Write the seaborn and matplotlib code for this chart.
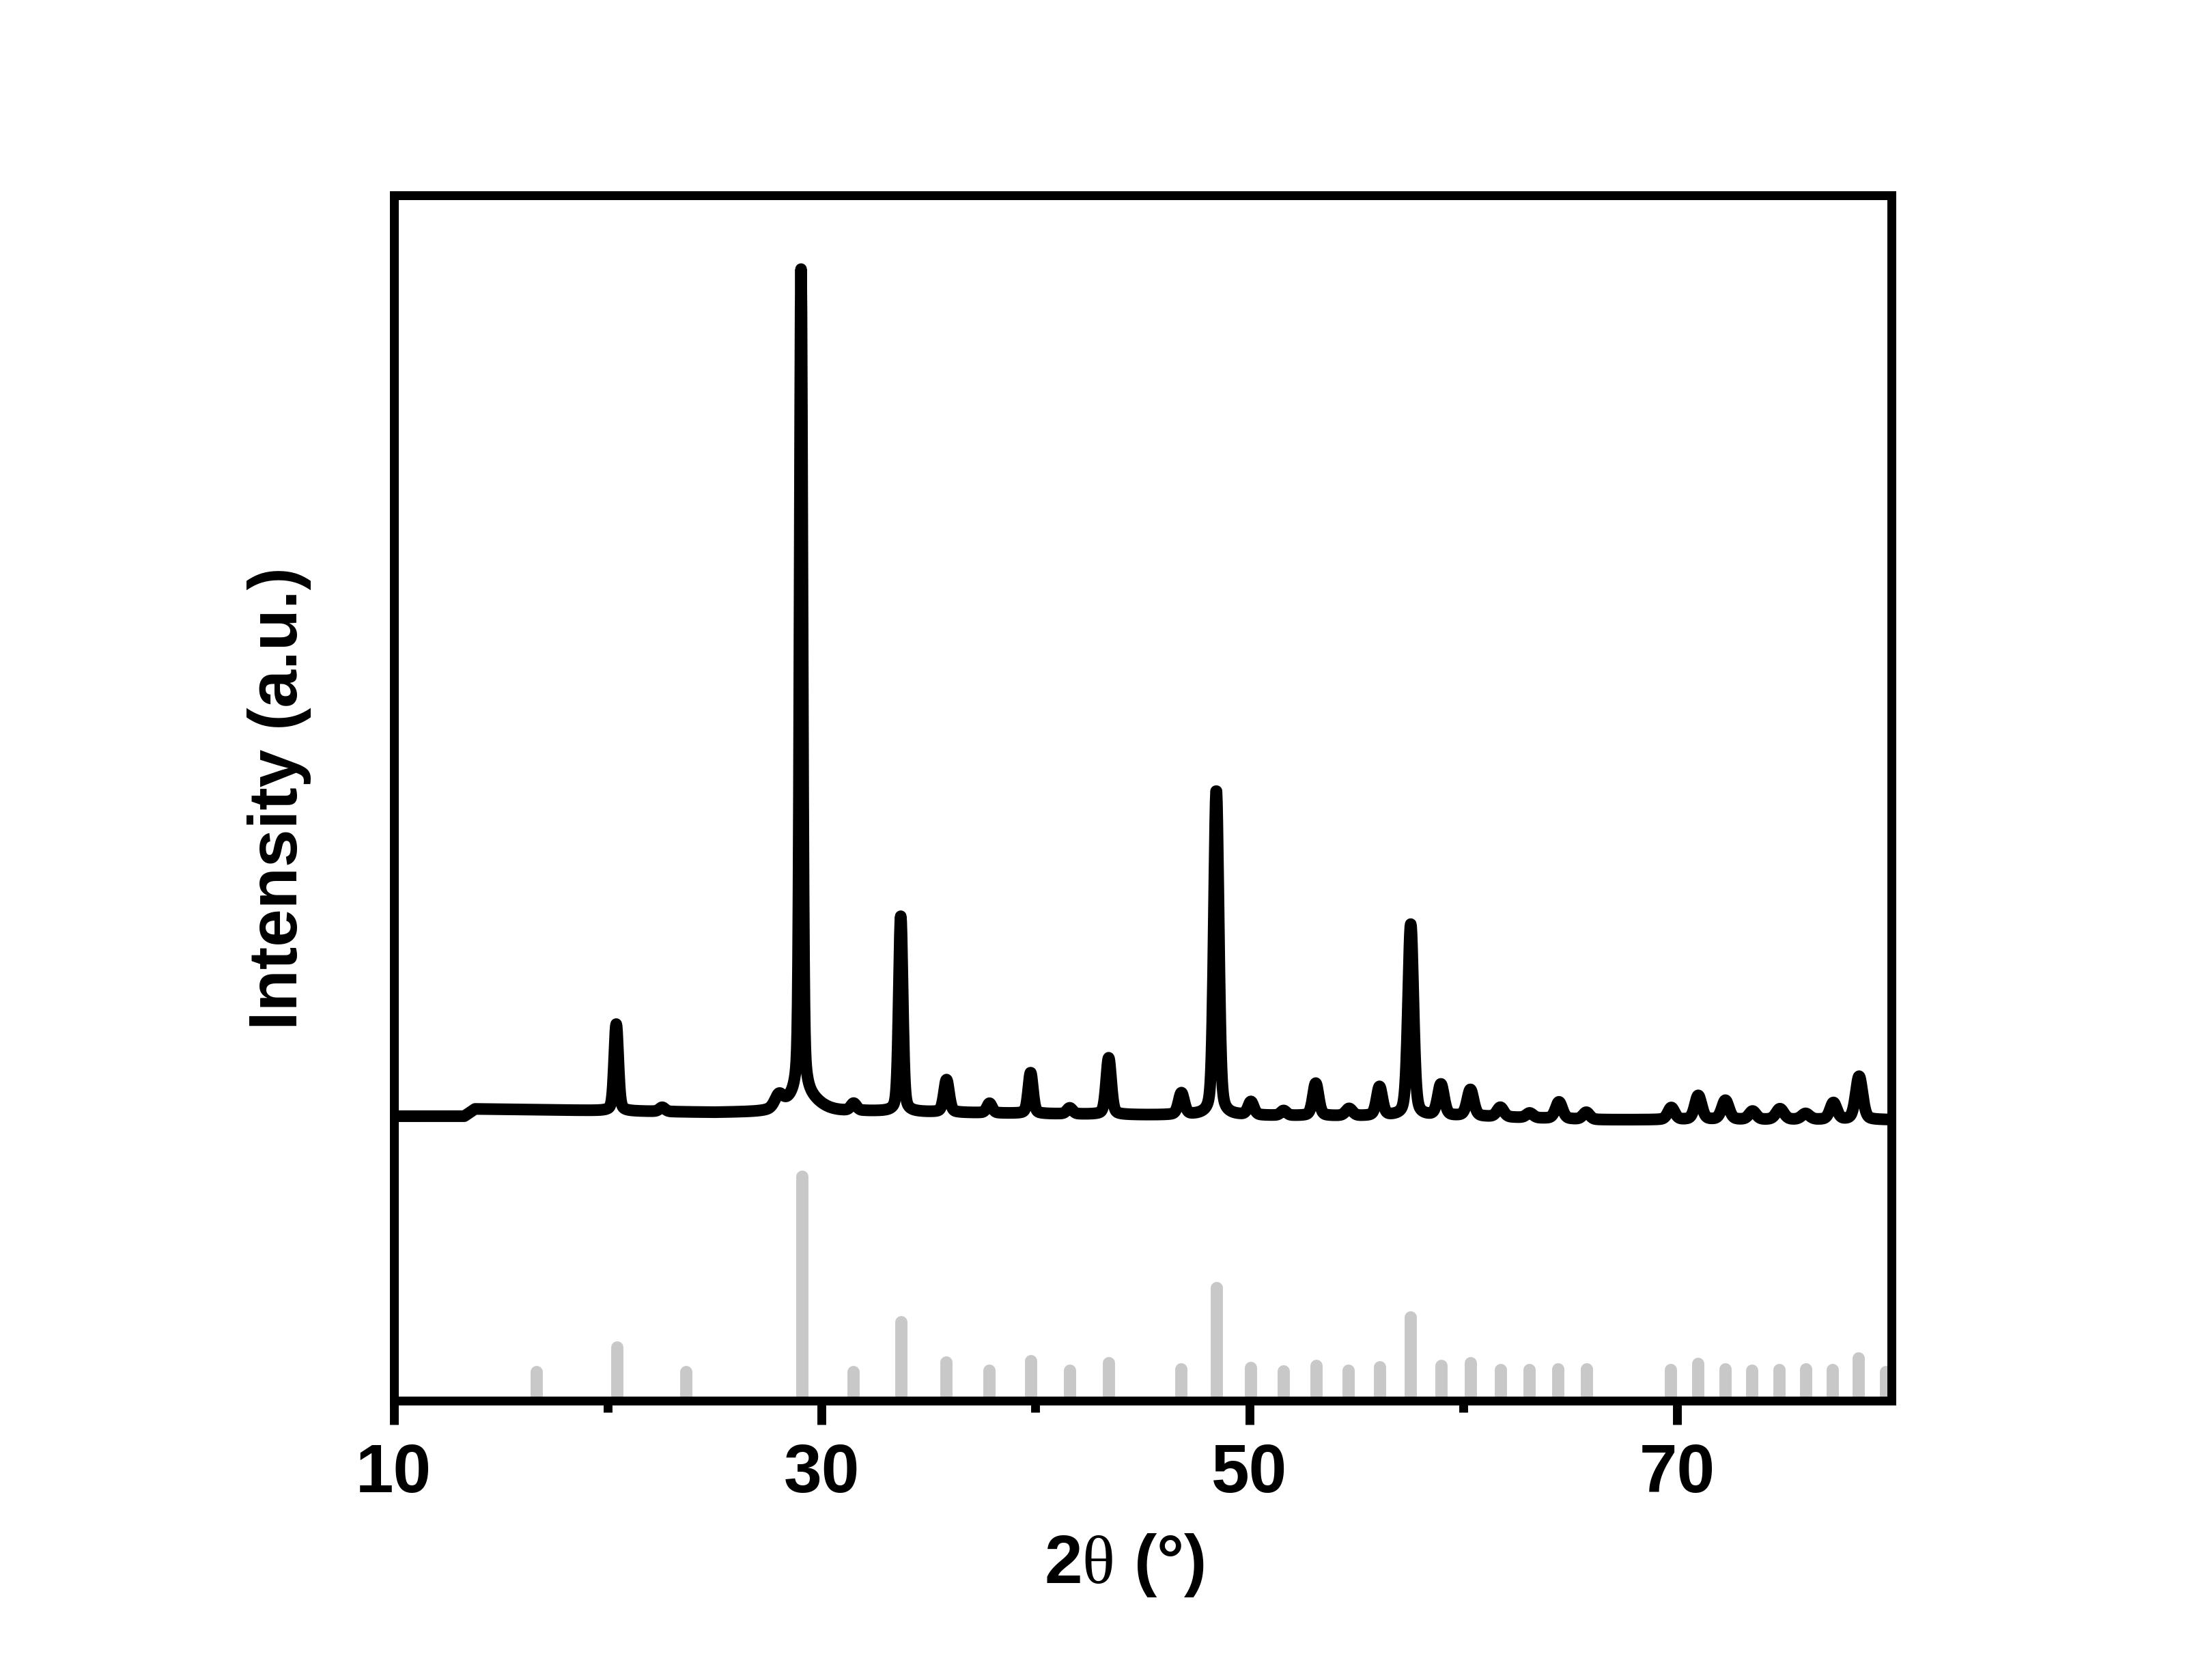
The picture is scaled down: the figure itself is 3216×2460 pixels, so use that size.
import numpy as np
import matplotlib
matplotlib.use("Agg")
import matplotlib.pyplot as plt
import seaborn as sns
import pandas as pd

# ---------------- data ----------------
# measured pattern: peak positions (2theta, deg), heights above background, FWHM (deg)
peak_pos = [20.40, 22.55, 28.00, 29.04, 29.10, 31.50, 33.70, 35.84, 37.85, 39.77,
            41.60, 43.42, 46.82, 48.45, 50.07, 51.60, 53.10, 54.66, 56.08, 57.54,
            58.95, 60.33, 61.73, 63.10, 64.47, 65.75, 69.72, 70.98, 72.25, 73.52,
            74.80, 76.00, 77.30, 78.50]
peak_height = [7.2, 0.35, 1.0, 68.5, 1.4, 0.6, 16.2, 2.7, 0.8, 3.4,
               0.5, 4.7, 1.8, 27.0, 1.1, 0.4, 2.7, 0.6, 2.4, 15.9,
               2.6, 2.2, 0.8, 0.4, 1.4, 0.6, 1.0, 2.0, 1.6, 0.7,
               0.9, 0.5, 1.4, 3.6]
peak_fwhm = [0.23, 0.32, 0.45, 0.16, 1.60, 0.32, 0.22, 0.29, 0.29, 0.26,
             0.32, 0.28, 0.32, 0.27, 0.32, 0.32, 0.32, 0.38, 0.32, 0.30,
             0.35, 0.36, 0.38, 0.38, 0.38, 0.38, 0.38, 0.38, 0.40, 0.40,
             0.44, 0.44, 0.38, 0.38]
lorentz_fraction = 0.35

# background level knots of the measured pattern
background_x = [10.0, 13.3, 13.8, 18.0, 25.0, 32.0, 36.0, 40.0, 45.0, 55.0, 60.0, 66.0, 80.0]
background_y = [23.6, 23.6, 24.2, 24.1, 23.9, 24.0, 23.9, 23.8, 23.7, 23.6, 23.6, 23.3, 23.3]

# reference (standard card) lines: positions and relative heights
ref_pos = [16.69, 20.45, 23.68, 29.10, 31.50, 33.73, 35.84, 37.85, 39.80, 41.62,
           43.44, 46.82, 48.48, 50.08, 51.61, 53.14, 54.64, 56.11, 57.54, 58.98,
           60.35, 61.76, 63.10, 64.44, 65.78, 69.71, 70.98, 72.26, 73.50, 74.78,
           76.03, 77.27, 78.48, 79.75]
ref_height = [2.4, 4.4, 2.4, 18.6, 2.4, 6.5, 3.2, 2.5, 3.3, 2.5,
              3.1, 2.6, 9.35, 2.7, 2.45, 2.9, 2.5, 2.8, 6.9, 2.9,
              3.1, 2.55, 2.55, 2.6, 2.6, 2.55, 3.05, 2.6, 2.5, 2.55,
              2.6, 2.55, 3.5, 2.4]

x_ticks = [10, 30, 50, 70]
x_minor = [20, 40, 60]

# ---------------- build measured curve from peak list ----------------
two_theta = np.arange(10.0, 80.0001, 0.02)
intensity = np.interp(two_theta, background_x, background_y)
for p, h, w in zip(peak_pos, peak_height, peak_fwhm):
    d = two_theta - p
    gauss = np.exp(-4 * np.log(2) * (d / w) ** 2)
    lorentz = 1.0 / (1.0 + (2 * d / w) ** 2)
    intensity = intensity + h * ((1 - lorentz_fraction) * gauss + lorentz_fraction * lorentz)
df = pd.DataFrame({"two_theta": two_theta, "intensity": intensity})

# ---------------- figure ----------------
sns.set_theme(style="white")
plt.rcParams['font.family'] = ['Liberation Sans', 'DejaVu Sans']
plt.rcParams['mathtext.fontset'] = 'custom'
plt.rcParams['mathtext.rm'] = 'Liberation Serif'
plt.rcParams['mathtext.it'] = 'Liberation Serif:italic'
plt.rcParams['mathtext.bf'] = 'Liberation Serif:bold'

fig = plt.figure(figsize=(10.72, 8.2033), dpi=300)
ax = fig.add_axes([0.1793, 0.1662, 0.6819, 0.7172])

ax.vlines(ref_pos, 0, ref_height, colors='#c8c8c8', linewidth=4.3,
          capstyle='round', zorder=1)
sns.lineplot(data=df, x="two_theta", y="intensity", color='black', linewidth=4.1,
             estimator=None, sort=False, ax=ax, zorder=3)
for ln in ax.get_lines():
    ln.set_solid_joinstyle('round')
    ln.set_solid_capstyle('round')

ax.set_xlim(10, 80)
ax.set_ylim(0, 100)
ax.set_xticks(x_ticks)
ax.set_xticks(x_minor, minor=True)
ax.set_xticklabels([str(t) for t in x_ticks])
ax.set_yticks([])

ax.tick_params(axis='x', which='major', bottom=True, direction='out', length=8.4,
               width=3.1, color='black', labelsize=24, pad=6, labelcolor='black')
ax.tick_params(axis='x', which='minor', bottom=True, direction='out', length=4.1,
               width=3.1, color='black')
for lab in ax.get_xticklabels():
    lab.set_fontweight('bold')

for s in ax.spines.values():
    s.set_visible(True)
    s.set_color('black')
    s.set_linewidth(3.12)

ax.set_xlabel(r'2$\mathrm{\theta}$ (°)', fontsize=24, fontweight='bold',
              color='black', labelpad=9)
ax.xaxis.label.set_x(0.4877)
ax.set_ylabel('Intensity (a.u.)', fontsize=24, fontweight='bold',
              color='black', labelpad=29)

fig.savefig('out.png', dpi=300, facecolor='white')
